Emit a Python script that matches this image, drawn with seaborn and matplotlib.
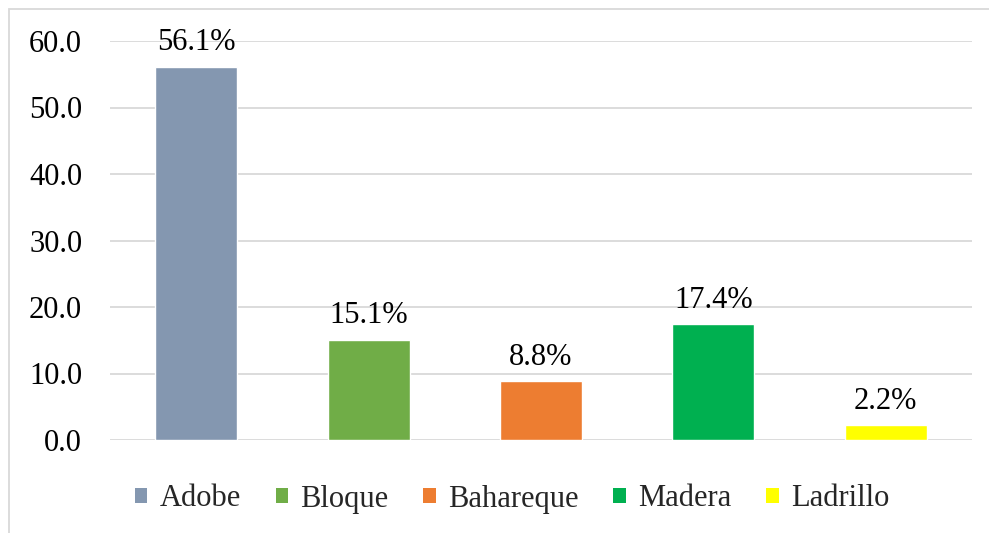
import matplotlib
matplotlib.use("Agg")
import matplotlib.pyplot as plt
import seaborn as sns
import pandas as pd
from matplotlib.patches import Patch, Rectangle

categories = ["Adobe", "Bloque", "Bahareque", "Madera", "Ladrillo"]
values = [56.1, 15.1, 8.8, 17.4, 2.2]
colors = ["#8497B0", "#70AD47", "#ED7D31", "#00B050", "#FFFF00"]
yticks = [0, 10, 20, 30, 40, 50, 60]

sns.set_theme(style="white")
plt.rcParams["font.family"] = ["Liberation Serif", "DejaVu Serif"]

df = pd.DataFrame({"cat": categories, "val": values})

fig = plt.figure(figsize=(9.89, 5.33), dpi=100)
ax = fig.add_axes([110/989, 93/533, 862/989, 399/533])

sns.barplot(data=df, x="cat", y="val", hue="cat", palette=colors,
            order=categories, hue_order=categories, width=0.476,
            legend=False, ax=ax, saturation=1, zorder=3)

ax.set_xlim(-0.5, 4.5)
ax.set_ylim(0, 60)
ax.set_yticks(yticks)
ax.set_yticklabels([f"{v:.1f}" for v in yticks], fontsize=22, color="black")
ax.tick_params(axis="y", length=0, pad=20)
ax.set_xticks([])
ax.set_xlabel("")
ax.set_ylabel("")
for s in ax.spines.values():
    s.set_visible(False)
ax.yaxis.grid(True, color="#D9D9D9", linewidth=1.3, zorder=0)
ax.set_axisbelow(True)

for cont in ax.containers:
    ax.bar_label(cont, fmt="%.1f%%", padding=7, fontsize=22, color="black")

handles = [Patch(facecolor=c, edgecolor="none") for c in colors]
fig.legend(handles, categories, loc="center", bbox_to_anchor=(512/989, 1 - 499/533),
           ncol=5, frameon=False, fontsize=22, handlelength=0.4, handleheight=0.4,
           handletextpad=0.4, columnspacing=1.15)

fig.patches.append(Rectangle((9/989, -0.1), 1.2, 1 - 9/533 + 0.1, transform=fig.transFigure,
                             fill=False, edgecolor="#D9D9D9", linewidth=1.3))

fig.savefig("out.png", dpi=100, facecolor="white")
